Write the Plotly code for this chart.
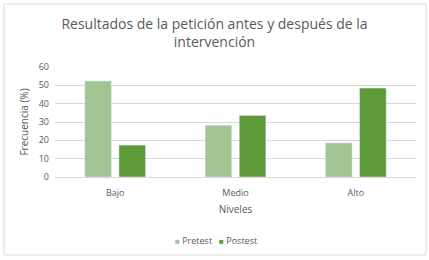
import plotly.graph_objects as go

categories = ["Bajo", "Medio", "Alto"]
series_names = ["Pretest", "Postest"]
pretest = [52.4, 28.2, 18.6]
postest = [17.4, 33.6, 48.5]
y_ticks = [0, 10, 20, 30, 40, 50, 60]

W, H = 429, 260
L, R, T, B = 55, 13, 67, 83
pw, ph = W - L - R, H - T - B

font = "Open Sans"
gray = "#595959"
c_pre, c_post = "#A3C593", "#5F9A3A"

fig = go.Figure()
fig.add_trace(go.Bar(name=series_names[0], x=categories, y=pretest, marker_color=c_pre, showlegend=False))
fig.add_trace(go.Bar(name=series_names[1], x=categories, y=postest, marker_color=c_post, showlegend=False))

def px_x(v):
    return (v - L) / pw

def px_y(v):
    return (H - B - v) / ph

legend_text = "&nbsp;&nbsp;&nbsp;".join(
    f"<span style='color:{c};font-size:8px'>■</span> {n}"
    for n, c in zip(series_names, [c_pre, c_post])
)

fig.update_layout(
    width=W, height=H,
    margin=dict(l=L, r=R, t=T, b=B, autoexpand=False),
    paper_bgcolor="white", plot_bgcolor="white",
    barmode="group", bargap=0.433, bargroupgap=0.22,
    font=dict(family=font, color=gray, size=9),
    title=dict(text="Resultados de la petición antes y después de la<br>intervención",
               x=0.5, xanchor="center", xref="container", y=1 - 29 / H, yanchor="top",
               font=dict(size=14, color=gray, family=font)),
    xaxis=dict(title=dict(text="Niveles", font=dict(size=10, color=gray), standoff=8),
               showline=True, linecolor="#D9D9D9", linewidth=1, automargin=False,
               ticklabelstandoff=7,
               tickfont=dict(size=9, color=gray), ticks=""),
    yaxis=dict(title=dict(text="Frecuencia (%)", font=dict(size=10, color=gray), standoff=8),
               range=[0, 60], tickvals=y_ticks, showgrid=True, gridcolor="#D9D9D9",
               automargin=False, ticklabelstandoff=5,
               zeroline=False, showline=False, tickfont=dict(size=9, color=gray)),
    annotations=[dict(text=legend_text, xref="paper", yref="paper",
                      x=px_x(216), y=px_y(240), xanchor="center", yanchor="middle",
                      showarrow=False, font=dict(size=9, color=gray, family=font))],
    shapes=[dict(type="rect", xref="paper", yref="paper",
                 x0=px_x(4), x1=px_x(426), y0=px_y(255), y1=px_y(4),
                 line=dict(color="#D9D9D9", width=1), fillcolor="rgba(0,0,0,0)", layer="below")],
)

fig.write_html("out.html", config={"displayModeBar": False},
               post_script="document.body.style.margin='0';document.body.style.padding='0';")
